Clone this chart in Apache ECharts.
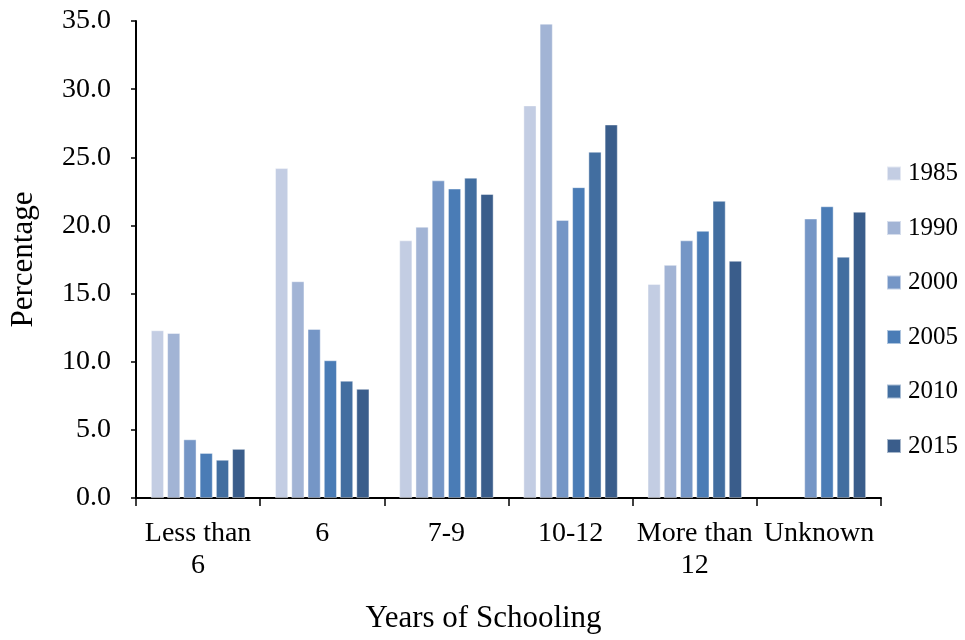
<!DOCTYPE html>
<html>
<head>
<meta charset="utf-8">
<style>
  html, body { margin: 0; padding: 0; background: #ffffff; }
  #chart { width: 965px; height: 640px; }
</style>
<script src="https://cdn.jsdelivr.net/npm/echarts@6/dist/echarts.min.js"></script>
</head>
<body>
<div id="chart"></div>
<script>
// Share of people by years of schooling, per survey year (%)
const categories = ['Less than 6', '6', '7-9', '10-12', 'More than 12', 'Unknown'];
const years = ['1985', '1990', '2000', '2005', '2010', '2015'];

const v1985 = [12.3, 24.2, 18.9, 28.8, 15.7, null];
const v1990 = [12.1, 15.9, 19.9, 34.8, 17.1, null];
const v2000 = [4.3, 12.4, 23.3, 20.4, 18.9, 20.5];
const v2005 = [3.3, 10.1, 22.7, 22.8, 19.6, 21.4];
const v2010 = [2.8, 8.6, 23.5, 25.4, 21.8, 17.7];
const v2015 = [3.6, 8.0, 22.3, 27.4, 17.4, 21.0];

const yTicks = [0, 5, 10, 15, 20, 25, 30, 35];

const seriesValues = [v1985, v1990, v2000, v2005, v2010, v2015];
const palette = ['#c3cde3', '#a2b4d5', '#7596c6', '#4a7cb6', '#426ea0', '#3a5d8b'];

const FONT = '"Liberation Serif", "Times New Roman", serif';

const chart = echarts.init(document.getElementById('chart'), null, { renderer: 'canvas' });

chart.setOption({
  animation: false,
  textStyle: { fontFamily: FONT, color: '#000' },
  grid: { left: 136, right: 84, top: 21, bottom: 142, containLabel: false },
  legend: {
    orient: 'vertical',
    left: 881,
    top: 156,
    itemWidth: 14,
    itemHeight: 14,
    itemGap: 29.5,
    icon: 'rect',
    data: years,
    textStyle: { fontFamily: FONT, fontSize: 25, color: '#000', lineHeight: 25, padding: [0, 0, 0, 2] }
  },
  xAxis: {
    type: 'category',
    data: categories,
    name: 'Years of Schooling',
    nameLocation: 'middle',
    nameGap: 105,
    nameTextStyle: { fontFamily: FONT, fontSize: 31, color: '#000', padding: [0, 50, 0, 0] },
    axisLine: { lineStyle: { color: '#000', width: 2 } },
    axisTick: { show: true, length: 8, lineStyle: { color: '#000', width: 1.5 } },
    axisLabel: {
      interval: 0,
      margin: 20,
      fontFamily: FONT,
      fontSize: 28,
      lineHeight: 32,
      color: '#000',
      formatter: function (v) { return v.replace('than ', 'than\n'); }
    }
  },
  yAxis: {
    type: 'value',
    min: 0,
    max: 35,
    interval: 5,
    name: 'Percentage',
    nameLocation: 'middle',
    nameGap: 97,
    nameRotate: 90,
    nameTextStyle: { fontFamily: FONT, fontSize: 31, color: '#000' },
    splitLine: { show: false },
    axisLine: { show: true, lineStyle: { color: '#000', width: 2 } },
    axisTick: { show: true, length: 5, lineStyle: { color: '#000', width: 1.5 } },
    axisLabel: {
      margin: 25,
      fontFamily: FONT,
      fontSize: 28,
      color: '#000',
      customValues: yTicks,
      formatter: function (v) { return v.toFixed(1); }
    }
  },
  series: years.map(function (y, i) {
    return {
      name: y,
      type: 'bar',
      data: seriesValues[i],
      barWidth: 13,
      barGap: '25%',
      itemStyle: { color: palette[i], borderColor: 'rgba(255,255,255,0.55)', borderWidth: 0.8 }
    };
  })
});
</script>
</body>
</html>
